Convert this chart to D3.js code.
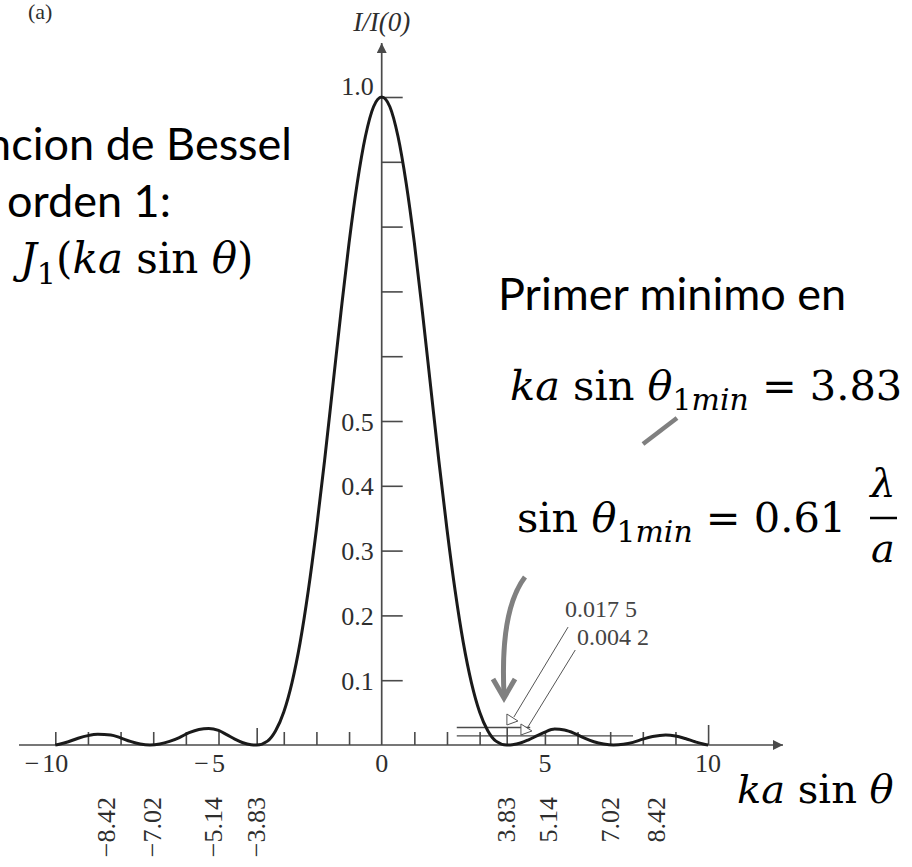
<!DOCTYPE html>
<html><head><meta charset="utf-8">
<script src="https://cdn.jsdelivr.net/npm/d3@7"></script>
<style>html,body{margin:0;padding:0;background:#fff;}svg{display:block}</style>
</head><body><svg id="chart" width="912" height="867"></svg>
<script>
// ---- data ----
const kaSinTheta = [-10,-9.85,-9.6,-9.3,-9,-8.7,-8.3,-8,-7.7,-7.4,-7.1,-6.8,-6.5,-6.2,-5.9,-5.6,-5.3,-5,-4.75,-4.5,-4.25,-4,-3.83,-3.5,-3.25,-3,-2.75,-2.5,-2.25,-2,-1.75,-1.5,-1.25,-1,-0.75,-0.5,-0.25,0,0.25,0.5,0.75,1,1.25,1.5,1.75,2,2.25,2.5,2.75,3,3.25,3.5,3.83,4,4.25,4.5,4.75,5,5.3,5.6,5.9,6.2,6.5,6.8,7.1,7.4,7.7,8,8.3,8.7,9,9.3,9.6,9.85,10];
const intensity = [0,0.0015,0.005,0.0105,0.0145,0.0165,0.0155,0.011,0.0055,0.0015,0,0.0015,0.0055,0.0115,0.019,0.024,0.0255,0.0225,0.016,0.009,0.0035,0.0005,0,0.006,0.022,0.051,0.096,0.158,0.238,0.333,0.439,0.553,0.667,0.775,0.867,0.939,0.985,1,0.985,0.939,0.867,0.775,0.667,0.553,0.439,0.333,0.238,0.158,0.096,0.051,0.022,0.006,0,0.0005,0.003,0.008,0.014,0.020,0.0245,0.023,0.018,0.011,0.005,0.0015,0,0.001,0.004,0.009,0.013,0.0155,0.014,0.010,0.005,0.0015,0];
const xTicks = [-10,-9,-8,-7,-6,-5,-3.83,-3,-2,-1,1,2,3,3.83,5,6,7,8,9,10];
const xTickLabels = [-10,-5,0,5,10];
const yTicks = [0.1,0.2,0.3,0.4,0.5,0.6,0.7,0.8,0.9,1.0];
const yTickLabels = [0.1,0.2,0.3,0.4,0.5,1.0];
const zeroMaxLabels = [-8.42,-7.02,-5.14,-3.83,3.83,5.14,7.02,8.42];
const levelNames = ["0.017 5","0.004 2"];
const levelHeights = [0.027,0.014];
const levelFrom = [2.3,2.3];
const levelTo = [4.55,7.7];

// ---- layout ----
const svg = d3.select("#chart");
const x = d3.scaleLinear().domain([-10,10]).range([55.3,708.1]);
const y = d3.scaleLinear().domain([0,1]).range([745,97]);
const axisColor = "#4a4a4a";
const labelColor = "#2e2e2e";
const serif = "'Liberation Serif','Times New Roman',serif";
const mathFont = "'DejaVu Serif','Liberation Serif',serif";
const sans = "Lato,'Open Sans',sans-serif";
const gray = "#808080";

svg.append("defs").append("marker").attr("id","arr").attr("viewBox","0 0 10 10")
  .attr("refX",10).attr("refY",5).attr("markerWidth",14).attr("markerHeight",10)
  .attr("markerUnits","userSpaceOnUse").attr("orient","auto")
  .append("path").attr("d","M0,0L10,5L0,10Z").attr("fill",axisColor);

svg.append("line").attr("x1",19).attr("x2",783).attr("y1",y(0)).attr("y2",y(0))
  .attr("stroke",axisColor).attr("stroke-width",1.7).attr("marker-end","url(#arr)");
svg.append("line").attr("x1",x(0)).attr("x2",x(0)).attr("y1",y(0)).attr("y2",43)
  .attr("stroke",axisColor).attr("stroke-width",1.7).attr("marker-end","url(#arr)");

const gx = svg.append("g").attr("transform",`translate(0,${y(0)})`)
  .call(d3.axisBottom(x).tickValues(xTicks).tickSize(-13).tickFormat(""));
gx.select(".domain").remove();
gx.selectAll(".tick line").attr("stroke",axisColor).attr("stroke-width",1.6)
  .attr("y2",d => d===10 ? -20 : (Math.abs(d)===3.83 ? -17 : -13));

const gy = svg.append("g").attr("transform",`translate(${x(0)},0)`)
  .call(d3.axisRight(y).tickValues(yTicks).tickSize(21).tickFormat(""));
gy.select(".domain").remove();
gy.selectAll(".tick line").attr("stroke",axisColor).attr("stroke-width",1.6);

const gyl = svg.append("g").attr("transform",`translate(${x(0)},0)`)
  .call(d3.axisLeft(y).tickValues(yTickLabels).tickSize(0).tickPadding(8).tickFormat(d3.format(".1f")));
gyl.select(".domain").remove();
gyl.selectAll("text").attr("font-family",serif).attr("font-size",26).attr("fill",labelColor)
  .attr("dy",d => d===1 ? "-0.08em" : "0.35em");

const xl = svg.append("g");
xTickLabels.forEach(v => {
  const t = xl.append("text").attr("x",x(v)).attr("y",772).attr("text-anchor","middle")
    .attr("font-family",serif).attr("font-size",26).attr("fill",labelColor).text(String(Math.abs(v)));
  if (v < 0) {
    const w = t.node().getComputedTextLength();
    xl.append("text").attr("x",x(v)-w/2-3).attr("y",772).attr("text-anchor","end")
      .attr("font-family",serif).attr("font-size",26).attr("fill",labelColor).text("\u2212");
  }
});

svg.append("g").selectAll("text").data(zeroMaxLabels).join("text")
  .attr("transform",d => `translate(${x(d)+8},797) rotate(-90)`)
  .attr("text-anchor","end").attr("font-family",serif).attr("font-size",26).attr("fill",labelColor)
  .text(d => (d<0 ? "\u2212" : "") + Math.abs(d).toFixed(2));

levelHeights.forEach((h,i) => {
  svg.append("line").attr("x1",x(levelFrom[i])).attr("x2",x(levelTo[i]))
    .attr("y1",y(h)).attr("y2",y(h)).attr("stroke",axisColor).attr("stroke-width",1.3);
});

const line = d3.line().x((d,i)=>x(kaSinTheta[i])).y((d,i)=>y(intensity[i])).curve(d3.curveMonotoneX);
svg.append("path").datum(intensity).attr("d",line).attr("fill","none")
  .attr("stroke","#1a1a1a").attr("stroke-width",3).attr("stroke-linejoin","round");

const pointerStart = [[5.71,0.182],[5.93,0.1466]];
const pointerEnd = [[4.05,0.0432],[4.48,0.0278]];
pointerStart.forEach((p,i) => {
  const x1 = x(p[0]), y1 = y(p[1]), x2 = x(pointerEnd[i][0]), y2 = y(pointerEnd[i][1]);
  svg.append("line").attr("x1",x1).attr("y1",y1).attr("x2",x2).attr("y2",y2)
    .attr("stroke","#555").attr("stroke-width",1);
  svg.append("path").attr("d",`M${x2-7},${y2-3}L${x2-7},${y2+8}L${x2+4},${y2+4}Z`)
    .attr("fill","#fff").attr("stroke","#555").attr("stroke-width",1);
});
svg.append("text").attr("x",565).attr("y",617).attr("font-family",serif).attr("font-size",24)
  .attr("fill","#444").text(levelNames[0]);
svg.append("text").attr("x",577).attr("y",645).attr("font-family",serif).attr("font-size",24)
  .attr("fill","#444").text(levelNames[1]);

svg.append("line").attr("x1",643).attr("y1",444).attr("x2",677).attr("y2",418)
  .attr("stroke",gray).attr("stroke-width",4.5);
svg.append("path").attr("d","M525,577Q500,610 504,694").attr("fill","none")
  .attr("stroke",gray).attr("stroke-width",5);
svg.append("path").attr("d","M493,679L504,698L515,679").attr("fill","none")
  .attr("stroke",gray).attr("stroke-width",5).attr("stroke-linejoin","miter");

svg.append("text").attr("x",28).attr("y",19).attr("font-family",serif).attr("font-size",22)
  .attr("fill",labelColor).text("(a)");
svg.append("text").attr("x",x(0)).attr("y",31).attr("text-anchor","middle")
  .attr("font-family",serif).attr("font-style","italic").attr("font-size",27).attr("fill",labelColor).text("I/I(0)");

svg.append("text").attr("x",292).attr("y",160).attr("text-anchor","end")
  .attr("font-family",sans).attr("font-size",45).attr("fill","#000").text("Funcion de Bessel");
svg.append("text").attr("x",7).attr("y",217)
  .attr("font-family",sans).attr("font-size",45).attr("fill","#000").text("orden 1:");
svg.append("text").attr("x",498).attr("y",310)
  .attr("font-family",sans).attr("font-size",45).attr("fill","#000").text("Primer minimo en");

function mathText(xp, yp, size, parts) {
  const t = svg.append("text").attr("x",xp).attr("y",yp).attr("font-family",mathFont)
    .attr("font-size",size).attr("fill","#000");
  let inSub = false;
  const off = Math.round(size*0.25);
  parts.forEach(p => {
    const s = t.append("tspan").text(p.t);
    if (p.i) s.attr("font-style","italic");
    if (p.s) {
      s.attr("font-size",size*0.72);
      if (!inSub) s.attr("dy",off);
      inSub = true;
    } else {
      if (inSub) s.attr("dy",-off);
      inSub = false;
    }
  });
  return t;
}
mathText(20,273,42,[{t:"J",i:1},{t:"1",s:1},{t:"("},{t:"ka",i:1},{t:" sin "},{t:"\u03b8",i:1},{t:")"}]);
mathText(510,400,41.5,[{t:"ka",i:1},{t:" sin "},{t:"\u03b8",i:1},{t:"1",s:1},{t:"min",i:1,s:1},{t:" = 3.83"}]);
mathText(517,532,41.5,[{t:"sin "},{t:"\u03b8",i:1},{t:"1",s:1},{t:"min",i:1,s:1},{t:" = 0.61"}]);
svg.append("text").attr("x",883).attr("y",497).attr("text-anchor","middle").attr("font-family",mathFont)
  .attr("font-style","italic").attr("font-size",40).text("\u03bb");
svg.append("line").attr("x1",870).attr("x2",897).attr("y1",518).attr("y2",518).attr("stroke","#000").attr("stroke-width",2.5);
svg.append("text").attr("x",883).attr("y",562).attr("text-anchor","middle").attr("font-family",mathFont)
  .attr("font-style","italic").attr("font-size",40).text("a");
mathText(737,803,40,[{t:"ka",i:1},{t:" sin "},{t:"\u03b8",i:1}]);
</script></body></html>
